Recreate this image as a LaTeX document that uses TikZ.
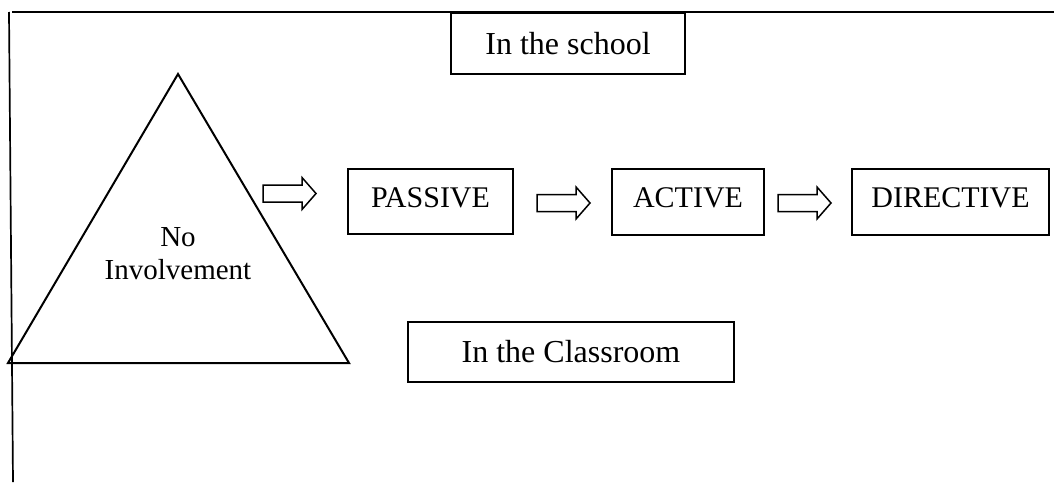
\documentclass[tikz,border=0pt]{standalone}
\usepackage{fontspec}
\setmainfont{Liberation Serif}
\usetikzlibrary{positioning,calc}
\tikzset{
 box/.style={draw,line width=2pt,inner sep=0pt,align=center},
 place/.style={box,font=\fontsize{32}{35}\selectfont},
 stage/.style={box,minimum height=66pt,text depth=8pt},
 edge/.style={line width=1.7pt},
 hollowarrow/.pic={
  \draw[line width=1.5pt,line join=miter] (0,-8.5) -- (39,-8.5) -- (39,-16) -- (53,0)
   -- (39,16) -- (39,8.5) -- (0,8.5) -- cycle;}
}
\begin{document}
\begin{tikzpicture}[x=1pt,y=-1pt,font=\fontsize{30}{33}\selectfont]
 \useasboundingbox (0,0) rectangle (1054,482);
 % frame lines
 \coordinate (tl) at (12,12);
 \coordinate (tr) at (1054,12);
 \coordinate (lt) at (9,12);
 \coordinate (lb) at (13,482);
 \draw[edge] (tl) -- (tr);
 \draw[edge] (lt) -- (lb);
 % triangle
 \coordinate (apex) at (178,74);
 \coordinate (bl) at (8,363);
 \coordinate (br) at (349,363);
 \draw[edge,line width=2pt,line join=miter] (apex) -- (br) -- (bl) -- cycle;
 \node[align=center,font=\fontsize{29}{33}\selectfont] (none) at (178,254) {No\\Involvement};
 % boxes
 \node[place,minimum width=234pt,minimum height=61pt] (school) at (568,43.5) {In the school};
 \node[stage,minimum width=165pt,minimum height=65pt] (passive) at (430.5,201.5) {PASSIVE};
 \node[stage,minimum width=152pt] (active) at (688,202) {ACTIVE};
 \node[stage,minimum width=197pt] (directive) at (950.5,202) {DIRECTIVE};
 \node[place,minimum width=326pt,minimum height=60pt] (classroom) at (571,352) {In the Classroom};
 % arrows
 \pic at (263,193.5) {hollowarrow};
 \pic at (537,203) {hollowarrow};
 \pic at (778,203) {hollowarrow};
\end{tikzpicture}
\end{document}
